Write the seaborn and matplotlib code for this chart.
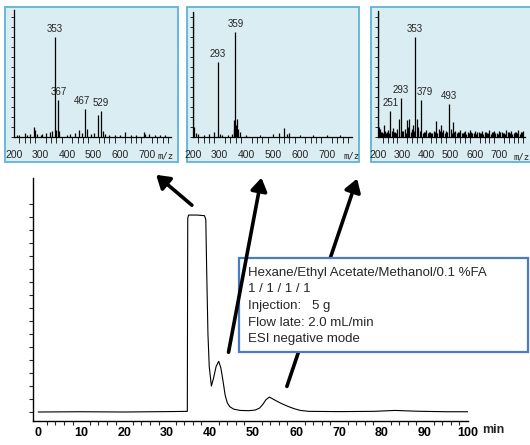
import matplotlib
matplotlib.use("Agg")
import matplotlib.pyplot as plt
import seaborn as sns
from matplotlib.patches import Rectangle, FancyArrowPatch
from matplotlib.ticker import MultipleLocator

# ==========================
# Chromatogram (time in min, detector signal in tick units)
# ==========================
chrom_time = [0, 10, 20, 30, 34.7, 34.8, 35.0, 37.0, 38.7, 39.0, 39.2, 39.5, 39.8,
              40.3, 40.8, 41.4, 42.0, 42.5, 43.0, 43.5, 44.0, 44.6, 45.5, 47.0,
              49.0, 50.5, 51.5, 52.3, 53.0, 53.8, 54.6, 55.6, 56.8, 58.2, 59.6,
              61.0, 63.0, 70.0, 78.0, 83.0, 88.0, 95.0, 100.0]
chrom_signal = [0, 0.02, 0, 0.03, 0.05, 14.9, 15.15, 15.15, 15.1, 14.8, 11.0, 6.0, 3.5,
                2.0, 2.6, 3.5, 3.9, 3.4, 2.4, 1.3, 0.7, 0.4, 0.22, 0.12,
                0.1, 0.15, 0.3, 0.6, 0.95, 1.15, 1.0, 0.82, 0.62, 0.42, 0.25,
                0.12, 0.05, 0.03, 0.05, 0.12, 0.06, 0.02, 0.02]
time_ticks = [0, 10, 20, 30, 40, 50, 60, 70, 80, 90, 100]
mz_ticks = [200, 300, 400, 500, 600, 700]

# ==========================
# MS spectra (m/z, relative intensity)
# ==========================
ms1_mz = [353, 367, 467, 529, 515, 275, 278, 260, 240, 305, 320, 335, 345, 358, 370,
          430, 445, 455, 475, 490, 500, 535, 545, 560, 600, 620, 640, 690, 695, 710,
          220, 210, 250, 285, 300, 400, 410, 580, 660, 730, 750, 770]
ms1_int = [100, 37, 28, 26, 22, 10, 7, 3, 4, 3, 4, 5, 6, 7, 6,
           4, 7, 4, 8, 3, 4, 6, 3, 2, 2, 5, 2, 5, 3, 3,
           2, 2, 2, 3, 2, 2, 3, 2, 2, 2, 2, 2]
ms1_labels = [(353, 100, "353"), (370, 37, "367"), (458, 28, "467"), (528, 26, "529")]

ms2_mz = [201, 293, 359, 355, 362, 365, 370, 352, 375, 205, 210, 220, 240, 260, 280,
          300, 310, 330, 345, 400, 450, 500, 520, 540, 550, 560, 600, 650, 700, 750]
ms2_int = [125, 75, 105, 17, 12, 18, 8, 8, 5, 10, 4, 3, 2, 3, 5,
           3, 2, 2, 3, 2, 2, 3, 4, 9, 3, 4, 2, 2, 2, 2]
ms2_labels = [(293, 75, "293"), (359, 105, "359")]

ms3_mz = [201, 353, 293, 379, 251, 493,
          205, 210, 215, 225, 232, 240, 262, 270, 280, 288, 300, 310, 318, 325,
          330, 340, 345, 360, 366, 372, 390, 400, 410, 420, 430, 440, 450, 460,
          470, 480, 500, 510, 520, 530, 540, 550, 560, 570, 580, 590, 600, 610,
          620, 630, 640, 650, 660, 670, 680, 690, 700, 710, 720, 730, 740, 750,
          760, 770, 780, 790, 800,
          207, 213, 219, 228, 236, 245, 256, 266, 275, 295, 305, 314, 335, 350,
          385, 395, 405, 415, 425, 435, 445, 455, 465, 475, 485, 505, 515, 525,
          535, 545, 555, 565, 575, 585, 595, 605, 615, 625, 635, 645, 655, 665,
          675, 685, 695, 705, 715, 725, 735, 745, 755, 765, 775, 785, 795]
ms3_int = [126, 100, 39, 37, 26, 33,
           10, 8, 5, 12, 4, 7, 9, 5, 8, 18, 6, 8, 17, 10,
           18, 8, 12, 18, 10, 6, 5, 7, 5, 4, 6, 16, 8, 12,
           7, 6, 8, 15, 6, 5, 7, 4, 6, 5, 7, 4, 6, 5,
           4, 6, 5, 4, 7, 5, 6, 4, 6, 5, 4, 7, 5, 6,
           4, 5, 7, 5, 6,
           6, 5, 4, 6, 5, 4, 6, 5, 4, 5, 6, 4, 5, 6,
           4, 5, 4, 5, 4, 5, 4, 6, 5, 4, 5, 4, 5, 4,
           5, 4, 5, 3, 4, 5, 4, 3, 5, 4, 3, 5, 4, 3,
           5, 4, 3, 5, 4, 3, 5, 4, 3, 5, 4, 3, 5]
ms3_labels = [(251, 26, "251"), (293, 39, "293"), (353, 100, "353"), (394, 37, "379"),
              (493, 33, "493")]

conditions = ["Hexane/Ethyl Acetate/Methanol/0.1 %FA",
              "1 / 1 / 1 / 1",
              "Injection:   5 g",
              "Flow late: 2.0 mL/min",
              "ESI negative mode"]

sns.set_theme(style="white")
plt.rcParams['font.family'] = ['Liberation Sans', 'DejaVu Sans']

W, H = 530, 445
fig = plt.figure(figsize=(5.3, 4.45), dpi=100)


def fx(px):
    return px / W


def fy(py):
    return 1 - py / H


# ==========================
# Main chromatogram
# ==========================
ax = fig.add_axes([fx(33), fy(421), 435 / W, 243 / H])
sns.lineplot(x=chrom_time, y=chrom_signal, ax=ax, color="black", lw=0.8,
             estimator=None, sort=False)
ax.set_xlim(-1.2, 100)
ax.set_ylim(-9 / 13, 234 / 13)
sns.despine(ax=ax)
for s in ["left", "bottom"]:
    ax.spines[s].set_color("black")
    ax.spines[s].set_linewidth(1.0)
ax.set_xticks(time_ticks)
ax.set_xticklabels([str(t) for t in time_ticks], fontweight="bold", fontsize=9)
ax.xaxis.set_minor_locator(MultipleLocator(2))
ax.set_yticks(range(0, 17))
ax.set_yticklabels([])
ax.tick_params(axis="x", which="major", direction="out", length=4, width=1, pad=0.5, colors="black")
ax.tick_params(axis="x", which="minor", direction="out", length=3, width=0.8, bottom=True)
ax.tick_params(axis="y", direction="out", length=3, width=0.8, left=True)
fig.text(fx(493), fy(430), "min", fontweight="bold", fontsize=9, ha="center", va="center")


# ==========================
# MS insets
# ==========================
def ms_panel(frame, axis_box, xmax, mz, inten, labels, mz_pos):
    x0, y0, x1, y1 = frame
    fig.add_artist(Rectangle((fx(x0), fy(y1)), fx(x1) - fx(x0), fy(y0) - fy(y1),
                             transform=fig.transFigure, facecolor="#daedf3",
                             edgecolor="#5fb4d3", lw=1.3, zorder=0))
    left, right, top, base = axis_box
    iax = fig.add_axes([fx(left), fy(base), (right - left) / W, (base - top) / H])
    iax.patch.set_alpha(0)
    iax.vlines(mz, 0, inten, color="black", lw=0.9)
    iax.set_xlim(200, xmax)
    iax.set_ylim(0, base - top)
    sns.despine(ax=iax)
    for s in ["left", "bottom"]:
        iax.spines[s].set_color("black")
        iax.spines[s].set_linewidth(0.9)
    iax.set_xticks(mz_ticks)
    iax.set_xticklabels([str(m) for m in mz_ticks], fontsize=7.5)
    iax.xaxis.set_minor_locator(MultipleLocator(20))
    iax.yaxis.set_minor_locator(MultipleLocator(10))
    iax.set_yticks([50])
    iax.set_yticklabels([])
    iax.tick_params(axis="x", which="major", direction="out", length=6, width=0.9, pad=3)
    iax.tick_params(axis="x", which="minor", direction="out", length=4, width=0.7, bottom=True)
    iax.tick_params(axis="y", which="both", direction="out", length=2, width=0.7, left=True)
    for xm, yv, txt in labels:
        iax.text(xm, yv + 3, txt, fontsize=7, ha="center", va="bottom")
    fig.text(fx(mz_pos[0]), fy(mz_pos[1]), "m/z", fontsize=6.5, ha="left", va="center",
             family="DejaVu Sans Mono")


ms_panel((5, 7, 178, 162), (14, 171, 10, 137), 792, ms1_mz, ms1_int, ms1_labels, (157, 156))
ms_panel((187, 7, 359, 162), (193, 352, 12, 137), 795, ms2_mz, ms2_int, ms2_labels, (344, 156))
ms_panel((371, 7, 545, 162), (378, 525, 11, 137), 807, ms3_mz, ms3_int, ms3_labels, (513, 157))

# ==========================
# Arrows and condition box
# ==========================
arrows = [((194, 207), (154, 173), 5), ((228, 355), (262, 175), 7), ((286, 389), (358, 176), 3)]
for (tx, ty), (hx, hy), z in arrows:
    fig.add_artist(FancyArrowPatch((fx(tx), fy(ty)), (fx(hx), fy(hy)),
                                   transform=fig.transFigure,
                                   arrowstyle="-|>,head_length=0.55,head_width=0.35",
                                   mutation_scale=14, lw=2.6, color="black", zorder=z))

fig.add_artist(Rectangle((fx(239), fy(352)), fx(528) - fx(239), fy(258) - fy(352),
                         transform=fig.transFigure, facecolor="white",
                         edgecolor="#4a7cc4", lw=1.6, zorder=4))
for i, line in enumerate(conditions):
    fig.text(fx(248), fy(273 + 16.5 * i), line, fontsize=9.5, ha="left", va="center",
             zorder=6)

fig.savefig("out.png", dpi=100)
